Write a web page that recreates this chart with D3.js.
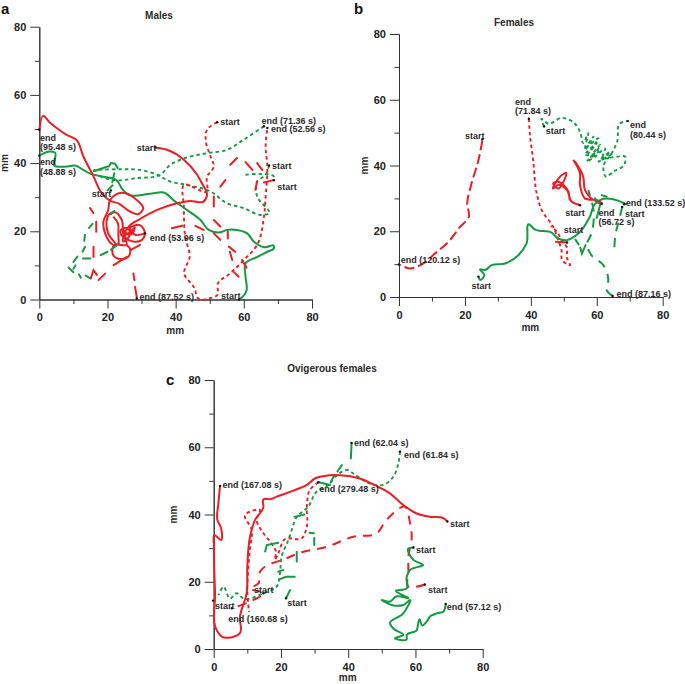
<!DOCTYPE html>
<html><head><meta charset="utf-8">
<script src="https://cdnjs.cloudflare.com/ajax/libs/d3/7.8.5/d3.min.js"></script>
<style>
html,body{margin:0;padding:0;background:#fff}
text{font-family:"Liberation Sans",Arial,sans-serif;fill:#2a2a2a}
</style></head><body><svg id="c" width="685" height="684"></svg>
<script>
const tickMajor=[0,20,40,60,80], tickMinor=[10,30,50,70];
// ---------- panel a (mm) ----------
const aRedSolid1=[[0,49.8],[1.2,53.9],[3,52],[5.1,50.3],[8,48.3],[10.8,46.9],[12.9,42],[15.9,36.1],[18.3,31.2],[20.7,29],[23.2,28.2],[26.6,25.8],[29,25],[30.5,26.7],[28.6,29.2],[24.2,31.3],[22.5,30.8],[20.7,29],[20.2,26.2],[18.8,22.8],[19.3,19.4],[21.7,16],[22.5,15.8],[20.2,19.4],[19.8,23.3],[20.5,25],[22.2,25.6],[24.2,23.3],[24.6,19.4],[25.6,16],[22.2,16],[21.7,15.5],[21.7,13],[23.7,11.9],[26.1,12.5],[26.6,15],[25.6,16]];
const aRedSolid1b=[[21.7,24.3],[23,22.5],[23.2,19],[23.3,16.2]];
const aRedSolid2=[[34,44.6],[37.5,43.9],[42.4,41],[46.3,36.6],[47.7,34.1],[49.2,30.7],[48.2,28.7],[44.3,28.9],[40.4,28.2],[34.4,26.2],[29,23.3],[26.6,21.8],[25,19.5],[24.6,17],[26,18],[26.6,20],[25,21],[23.8,20],[24.4,18.6],[25.8,19.2],[27,20],[28,21.2],[27.4,19.5],[26.2,19],[24.6,20.4],[25.1,18.4],[27.6,17],[30,17.4],[31,19.4],[29.5,21.8],[26.6,20.9],[28,19],[31,19.4]];
const aGreenSolid=[[58.6,0],[60.2,1.4],[60.8,2.7],[60.5,6.7],[60.5,10.6],[64,12.5],[66.9,14],[68.8,15],[68.8,15.7],[65.9,15.3],[62.9,17],[61,19.4],[58,20.4],[55,20.4],[53.1,19.7],[49.7,20.4],[47.3,23.3],[43.3,26.3],[39.9,28.7],[36.5,31.4],[32.5,31],[26.2,30.7],[24.2,32.6],[22.7,35],[18.8,36],[14.9,36.9],[12.9,38],[10.5,39.3],[8,39],[4.4,39.3],[4.6,43.1],[3.1,43.4],[0,42.2]];
const aRedDotted=[[52.2,52],[49.2,49.8],[48.8,46.9],[50.2,42],[51.2,39],[49.2,36],[49.2,31.7],[42.4,33.6],[42.4,27.3],[42.8,18.4],[44.1,12.5],[42.5,7.6],[45.3,3.7],[47,0],[49.7,0.3],[52.2,1.3],[52.4,4.7],[55.9,7.6],[60,11.6],[63.9,16],[65.9,24.3],[66.4,30.2],[66.9,39],[66.4,44.9],[66.9,50.3]];
const aGreenDotted1=[[67.4,39.3],[66.4,36.6],[63.9,34.6],[63.9,30.2],[67.4,25.3],[64.9,24.8],[60,26.8],[55.1,28.2],[50.2,31.7],[43.3,33.6],[38.4,34.6],[34.5,36.6],[29.6,38],[23.7,38.2],[15.9,38]];
const aGreenDotted2=[[65.9,50.8],[60,46.9],[55.1,43.9],[49.2,42.9],[42.8,41.5],[38.4,39.5],[35.5,36.6],[28.6,35.6],[21.8,35],[18,36]];
const aGreenDotted3=[[60.5,36.6],[65,36.8],[68.8,36],[68.8,35.4]];
const aRedRuns=[[[68.8,35],[65.9,34.3]],[[63.9,34.6],[63.4,32.2]],[[63.9,40],[65.4,38]],[[60.5,40.3],[62.5,38]],[[58,41.5],[56,39.5]],[[54.6,35],[53.1,33.1]],[[51.2,30.2],[51.2,27.3]],[[51.2,23.3],[53.1,21.4]],[[55.3,19.9],[55.3,17.9]],[[51.2,19.4],[53.1,17.5]],[[55.6,15.5],[57.5,14]],[[55.9,14],[56.6,11.6]],[[57,8.1],[58.5,6.7]],[[59.5,11.6],[60.8,9.3]],[[45.8,21.6],[48.2,20.4]],[[38.9,20.9],[41.9,21.6]],[[26.7,14.5],[29.6,16]],[[21.8,10.1],[25.7,12.5]],[[17.4,5.7],[19.3,7.6]],[[15.1,6.2],[15.9,8.6],[16.9,7.2]],[[15.9,15.5],[15.9,12.5]],[[16.7,22.8],[16.7,19.9]],[[14.9,26.8],[15.9,25.3]],[[27.6,7.6],[27.9,5.7]],[[28.1,3.7],[28.6,0.6]]];
const aGreenRuns=[[[22,37],[21.4,34.4]],[[21.5,33.5],[20,32]],[[22,26],[21,25]],[[15.6,22.2],[14.6,21]],[[13.4,19],[13.2,17.2]],[[13.4,15.4],[12.7,14]],[[11.2,12.6],[10,11]],[[10.6,10],[10,9]],[[8.6,9.4],[10,8]],[[11.6,7.4],[12.2,6.4]],[[13.6,7],[15,6.2]],[[12.8,12],[15,12]],[[18,13],[20,14]],[[21,14.6],[22.6,15.8]],[[16,37.6],[20,39]],[[20.4,39],[21,40],[22.2,39.8],[23,38.6]]];
const aLabels=[["end",0.2,47.5],["(95.48 s)",0.2,44.7],["end",0.2,40.3],["(48.88 s)",0.2,37.5],["start",28.6,44.4],["start",15.4,31],["start",53.1,52],["end (71.36 s)",65.2,52.4],["end (52.56 s)",68,50],["start",68.3,39.3],["start",69.8,33.1],["end (53.96 s)",32.4,18.1],["end (87.52 s)",29.4,0.8],["start",53.3,1.1]];
const aDots=[[0,49.8],[0,42.2],[34,44.6],[21,32],[52.2,52],[65.9,50.8],[66.9,50.3],[67.4,39.3],[68.8,35],[31,19.4],[28.6,0.3],[58.6,0]];
// ---------- panel b (mm) ----------
const bRedDashed=[[25.3,47.6],[24.1,41.6],[22,34.5],[20.7,28.4],[21.2,24.4],[18.5,21.3],[15,16.8],[10.9,13.2],[7.4,10.2],[3.3,8.7],[0,9.9]];
const bRedDotted=[[39.4,54.2],[39.7,49.6],[40.7,41.6],[41.8,31.4],[43.3,26.4],[46.8,21.3],[48.3,17.3],[49.3,14.3],[49.5,11.2],[51.9,9.7],[50.9,12],[51,15],[49.5,17],[47.8,20],[46,21.5]];
const bRedSolid1=[[52.9,41.7],[54.9,37.6],[54.9,34.1],[56.4,30],[60.5,29.3],[61.5,28.4],[58,30.3],[56.4,32.6],[55.9,36.6],[53.4,41.2]];
const bRedSolid2=[[54.9,28],[52.4,29],[50.9,32.6],[48.3,34.1],[46.8,33],[49.4,37.1],[50.7,37.8],[49.9,35.1],[48.3,33],[46.8,34.6],[47.8,35.1],[51.4,32],[51.9,29.5],[54.9,28]];
const bRedSolid3=[[51,16.6],[47.4,16.8]];
const bGreenSolid=[[24.1,6.2],[24.6,5.2],[25.9,6.7],[24.6,8.4],[26.1,8.2],[28.1,9.7],[32.2,10.2],[36.2,12.7],[38.7,16.3],[39.4,22.1],[41.3,20.5],[46.3,19.6],[48.3,17.8],[50.9,17.3],[54.4,19.3],[57.9,24.4],[59.5,28.4],[62,29.9],[65.5,29.6],[69.1,28.2]];
const bGreenDotted=[[44,51.9],[43.2,54.2],[45.3,52.7],[49.4,54.5],[53.4,52.7],[54.9,50.3],[55.9,46.8],[57.4,49.8],[56.4,44.7],[59,48.8],[56.9,45.7],[60.5,48.3],[57.4,43.7],[60,46.8],[56.4,43.2],[59.5,43.7],[61,46.3],[58,42.2],[60.5,44.2],[56.9,41.2],[59.5,42.7],[62.5,45.2],[61.5,41.7],[64,44.2],[60.5,41.2],[65,43.7],[62.5,42.2],[66.2,42.7],[68.6,42.7],[68.3,40.2],[65,38.1],[62.8,36.6],[62,39.7],[64.5,43.7],[66.2,47.3],[67,52.8],[69.6,53.6]];
const bGreenDashed1=[[67.7,27.4],[66.5,22.3],[65.7,19.3],[65.3,13.2]];
const bGreenDashed2=[[64.8,0.3],[63,2.1],[63.5,5.2],[62,9.7],[58.4,12.7],[57,16],[58.4,19.3],[59,26.4],[57.4,32.5]];
const bGreenRuns=[[[59.5,30],[60.5,28.5]],[[61.5,31],[63,30.5]],[[53.5,17.5],[54.5,16]],[[55,15],[55.5,13.2],[56.6,15.8]],[[61,28],[60,24]]];
const bLabels=[["end",35.2,59.5],["(71.84 s)",35.2,56.6],["start",20,48.9],["start",44.5,50.5],["end",70.1,52.4],["(80.44 s)",70.1,49.4],["start",50.4,25.7],["end",60.5,25.7],["(56.72 s)",60.5,22.9],["end (133.52 s)",68.8,28.6],["start",68.6,25.4],["start",50,20.3],["end (120.12 s)",0.5,11.4],["start",22,3.3],["end (87.16 s)",66,1.1]];
const bDots=[[39.4,54.2],[25.3,48],[44,51.9],[69.4,53.5],[54.9,27.9],[61.5,28.4],[51,16.6],[68.3,28.2],[67.7,27.4],[0,9.9],[24.1,6.2],[64.8,0.3]];
// ---------- panel c (mm) ----------
const cRedSolid=[[69.5,37.9],[68.3,38.9],[64.3,39.3],[60.4,40.3],[56.4,42.8],[52.4,46.3],[47.7,48.8],[43.5,50.7],[37.6,51.7],[32.6,51.4],[30.1,50.7],[27.7,48.8],[23.7,47.1],[18.7,45.3],[17,44.6],[14.8,44.5],[14.6,43.8],[14.8,42.3],[12.3,38.4],[10.8,33.4],[10,24.5],[9.8,16.6],[7.8,9.6],[7.8,4.7],[5.4,3.5],[2.4,3.7],[0.9,5.6],[0.4,16.6],[0.1,30.4],[0.2,33.9],[2.2,32.4],[2.2,35.9],[1.1,38.4],[1.4,43.3],[1.9,48.5]];
const cRedDashed=[[62.8,19.2],[57.9,18.5],[57.9,23.5],[57.9,27.5],[58.9,33.4],[58.4,37.4],[56.9,42.3],[51.4,38.4],[48.5,34.4],[41.5,33.4],[33.6,30.4],[26.7,28.9],[21.7,27],[13.8,23],[13.3,19.5],[10.8,18],[14.8,16.6],[10.8,14.1],[5.4,12.1]];
const cRedDotted=[[31.1,49.6],[28.6,47.3],[27.7,42.3],[27.7,36.4],[26.2,32.9],[21.2,32.7],[19.2,28.4],[18.2,26.5],[18.5,29],[17.2,31.4],[14.8,34.4],[12.8,38.4],[13.8,41.3],[9.3,39.8],[11.3,35.4],[10.8,30],[10.3,24],[10,17],[10.5,11]];
const cGreenSolid=[[59.4,30.2],[57.9,29.9],[59.4,26.5],[62.3,25],[58.4,23.5],[57.4,21.5],[57.4,18],[54.2,17.3],[57.9,15.1],[54.2,15.6],[52.4,14.1],[50,14.6],[52.9,13.1],[56.4,13.1],[58.4,14.6],[56.4,10.6],[52.4,7.6],[53.4,6.1],[56.4,4.2],[53.9,3.2],[57.4,2.9],[57.4,4.2],[60.4,5.6],[60.8,7.6],[61.2,8.8],[62,7],[63.3,8.1],[64.5,9.8],[66.3,10.6],[68.3,11.1],[69,13.4]];
const cGreenDotted=[[55.4,58.7],[54.9,55.2],[53.4,51.2],[50.4,48.8],[47,49],[41.5,52.2],[40,53.2],[36.1,51.2],[34.1,48.8],[30.6,46.8],[28.1,42.3],[24.7,39.3],[23.2,35.4],[22.2,32.4],[20.2,27.5],[19.7,22.5],[18.7,18.5],[14.8,16.6],[8.8,15],[6.8,16.6],[4.9,15],[2.9,18.5],[1.4,16]];
const cGreenRuns=[[[41,61.3],[40.8,56.7]],[[38.1,54.7],[36.8,52.8]],[[35.6,51.2],[34.8,49.5]],[[31.3,49.6],[34.6,48.8]],[[29.8,34.4],[28.5,34.6]],[[29.9,33],[29.9,30.9]],[[24.7,28.9],[24.7,26]],[[20.7,23.5],[19.2,23]],[[24.1,21.5],[21.5,21.5],[19.7,20.8]],[[22.7,17.5],[21.5,15.1]],[[15.3,29],[15.8,30.9],[19.2,31.6]],[[24,39.3],[27,40]]];
const cLabels=[["end (62.04 s)",41.7,61.3],["end (61.84 s)",56.6,57.6],["end (167.08 s)",2.6,48.8],["end (279.48 s)",31.4,47.7],["start",70.3,37.2],["start",60.2,29.6],["start",63.7,17.7],["end (57.12 s)",69.3,12.5],["start",12,17.7],["start",21.9,13.8],["start",0.4,12.9],["end (160.68 s)",4.3,9.1]];
const cDots=[[41,61.3],[55.4,58.7],[1.9,48.5],[31.1,49.6],[69.5,37.9],[59.4,30.2],[62.8,19.2],[69,13.4],[14.8,16.6],[21.5,15.1],[-0.2,14.4],[5.4,12.1]];

const RED="#ea1f26", GREEN="#149a42";
const DOT="3.5 3", DASH="9 7";
const panels=[
 {tag:"a",tagX:1,tagY:14,title:"Males",titleX:159,titleY:19,x0:39.3,x1:312,y0:299.5,y1:26.7,ylabX:8,xlabY:334,tickY:321,
  lines:[[aGreenDotted1,GREEN,DOT],[aGreenDotted2,GREEN,DOT],[aGreenDotted3,GREEN,DOT],[aRedDotted,RED,DOT],[aGreenSolid,GREEN,null],[aRedSolid1,RED,null],[aRedSolid1b,RED,null],[aRedSolid2,RED,null]],
  runs:[[aGreenRuns,GREEN],[aRedRuns,RED]],labels:aLabels,dots:aDots},
 {tag:"b",tagX:354,tagY:14,title:"Females",titleX:514,titleY:26,x0:399,x1:662.7,y0:297,y1:34,ylabX:368,xlabY:331,tickY:320,
  lines:[[bGreenDotted,GREEN,DOT],[bGreenDashed1,GREEN,DASH],[bGreenDashed2,GREEN,DASH],[bRedDashed,RED,"10 4"],[bRedDotted,RED,DOT],[bGreenSolid,GREEN,null],[bRedSolid1,RED,null],[bRedSolid2,RED,null],[bRedSolid3,RED,null]],
  runs:[[bGreenRuns,GREEN]],labels:bLabels,dots:bDots},
 {tag:"c",tagX:166,tagY:385,title:"Ovigerous females",titleX:332,titleY:372,x0:213.7,x1:482.7,y0:649,y1:380,ylabX:177,xlabY:681,tickY:672,
  lines:[[cGreenDotted,GREEN,DOT],[cRedDashed,RED,DASH],[cRedDotted,RED,DOT],[cGreenSolid,GREEN,null],[cRedSolid,RED,null]],
  runs:[[cGreenRuns,GREEN]],labels:cLabels,dots:cDots}
];
const svg=d3.select("#c");
panels.forEach(p=>{
  const x=d3.scaleLinear().domain([0,80]).range([p.x0,p.x1]);
  const y=d3.scaleLinear().domain([0,80]).range([p.y0,p.y1]);
  const g=svg.append("g");
  const sty=a=>{a.selectAll("path,line").attr("stroke","#333").attr("stroke-width",1);a.selectAll("text").attr("font-size",11).attr("font-weight",700).style("fill","#222");return a;};
  sty(g.append("g").attr("transform",`translate(0,${p.y0})`).call(d3.axisBottom(x).tickValues(tickMinor).tickSize(4.5).tickSizeOuter(0).tickFormat("")));
  sty(g.append("g").attr("transform",`translate(${p.x0},0)`).call(d3.axisLeft(y).tickValues(tickMinor).tickSize(4.5).tickSizeOuter(0).tickFormat("")));
  sty(g.append("g").attr("transform",`translate(0,${p.y0})`).call(d3.axisBottom(x).tickValues(tickMajor).tickSize(9).tickSizeOuter(0).tickPadding(5)));
  sty(g.append("g").attr("transform",`translate(${p.x0},0)`).call(d3.axisLeft(y).tickValues(tickMajor).tickSize(9).tickSizeOuter(0).tickPadding(4)));
  const line=d3.line().x(d=>x(d[0])).y(d=>y(d[1])).curve(d3.curveCatmullRom.alpha(0.9));
  const straight=d3.line().x(d=>x(d[0])).y(d=>y(d[1]));
  p.lines.forEach(([pts,col,dash])=>{
    g.append("path").attr("d",line(pts)).attr("fill","none").attr("stroke",col).attr("stroke-width",dash===DOT?1.9:2)
     .attr("stroke-dasharray",dash).attr("stroke-linejoin","round");
  });
  p.runs.forEach(([runs,col])=>{
    g.append("g").selectAll("path").data(runs).join("path").attr("d",straight).attr("fill","none").attr("stroke",col).attr("stroke-width",2).attr("stroke-linecap","round");
  });
  g.append("g").selectAll("circle").data(p.dots).join("circle").attr("cx",d=>x(d[0])).attr("cy",d=>y(d[1])).attr("r",1.2).attr("fill","#111");
  g.append("g").selectAll("text").data(p.labels).join("text").attr("x",d=>x(d[1])).attr("y",d=>y(d[2])).attr("dy","0.35em")
    .attr("font-size",9).attr("font-weight",700).text(d=>d[0]);
  g.append("text").attr("x",p.titleX).attr("y",p.titleY).attr("text-anchor","middle").attr("font-size",10).attr("font-weight",700).text(p.title);
  g.append("text").attr("x",p.tagX).attr("y",p.tagY).attr("font-size",15).attr("font-weight",700).style("fill","#111").text(p.tag);
  g.append("text").attr("x",(p.x0+p.x1)/2-0.5).attr("y",p.xlabY).attr("text-anchor","middle").attr("font-size",10).attr("font-weight",700).text("mm");
  g.append("text").attr("transform",`translate(${p.ylabX},${(p.y0+p.y1)/2}) rotate(-90)`).attr("text-anchor","middle").attr("font-size",10).attr("font-weight",700).text("mm");
});
</script></body></html>
